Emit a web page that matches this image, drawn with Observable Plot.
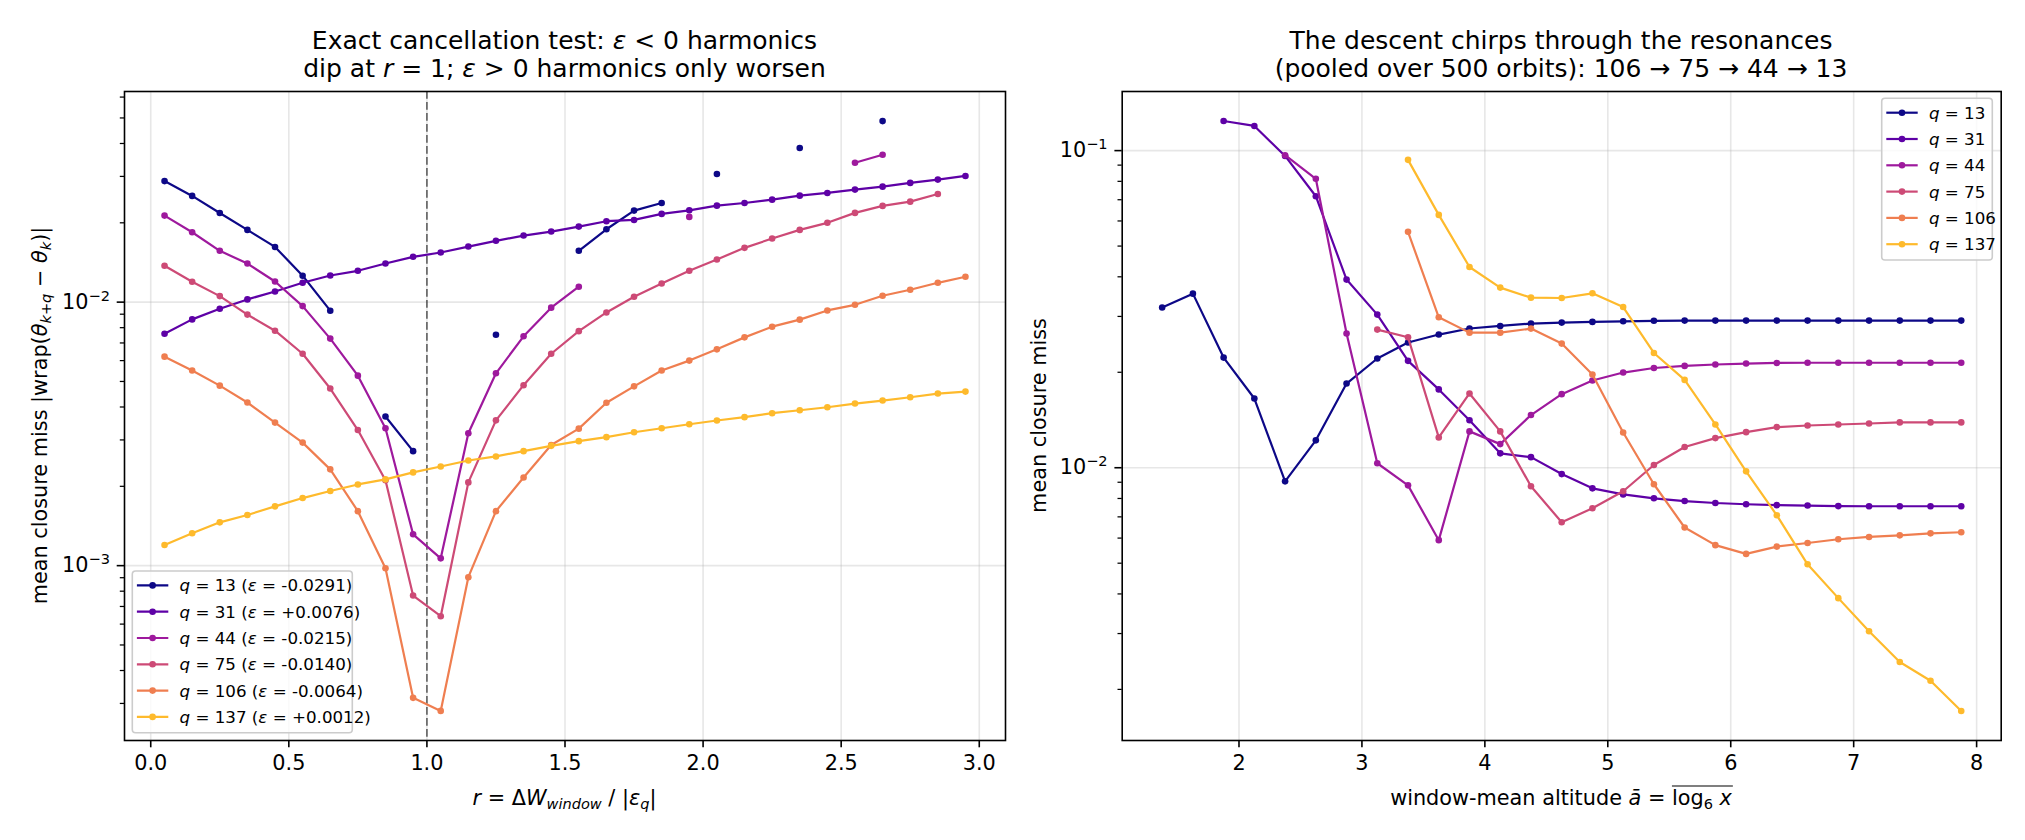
<!DOCTYPE html>
<html>
<head>
<meta charset="utf-8">
<script src="https://cdn.jsdelivr.net/npm/d3@7"></script>
<script src="https://cdn.jsdelivr.net/npm/@observablehq/plot@0.6"></script>
<style>
  body { margin: 0; background: #fff; }
  #fig { position: relative; width: 2025px; height: 840px; overflow: hidden; background: #fff; }
  #fig > svg { position: absolute; top: 0; }
</style>
</head>
<body>
<div id="fig"></div>
<script>
// ---- harmonics and their detuning ----
const harmonics = [13, 31, 44, 75, 106, 137];
const epsilon = [-0.0291, 0.0076, -0.0215, -0.0140, -0.0064, 0.0012];

// ---- left panel: closure miss versus r = ΔW_window / |ε_q| ----
const ratioR = [0.05, 0.15, 0.25, 0.35, 0.45, 0.55, 0.65, 0.75, 0.85, 0.95,
                1.05, 1.15, 1.25, 1.35, 1.45, 1.55, 1.65, 1.75, 1.85, 1.95,
                2.05, 2.15, 2.25, 2.35, 2.45, 2.55, 2.65, 2.75, 2.85, 2.95];
const missRatioQ13 = [0.0288, 0.0253, 0.0218, 0.0188, 0.0162, 0.0126, 0.00928, null, 0.00368, 0.00272,
                      null, null, 0.00752, null, null, 0.01566, 0.0189, 0.02225, 0.02378, null,
                      0.03065, null, null, 0.03845, null, null, 0.04865, null, null, null];
const missRatioQ31 = [0.00759, 0.00860, 0.00944, 0.01024, 0.01098, 0.01184, 0.01262, 0.01315, 0.01401, 0.01486,
                      0.01543, 0.01625, 0.01709, 0.01789, 0.01853, 0.01935, 0.02028, 0.02051, 0.02162, 0.02231,
                      0.02324, 0.02378, 0.02449, 0.02536, 0.02596, 0.02673, 0.02743, 0.02834, 0.02917, 0.03012];
const missRatioQ44 = [0.02130, 0.01842, 0.01566, 0.01401, 0.01198, 0.00966, 0.00727, 0.00526, 0.00332, 0.001315,
                      0.001066, 0.00318, 0.00537, 0.00742, 0.00953, 0.01144, null, null, null, 0.02106,
                      null, null, null, null, null, 0.03382, 0.03626, null, null, null];
const missRatioQ75 = [0.01374, 0.01195, 0.01054, 0.00897, 0.00779, 0.00637, 0.00470, 0.00327, 0.00211, 0.000770,
                      0.000643, 0.00207, 0.00356, 0.00484, 0.00637, 0.00776, 0.00914, 0.01048, 0.01177, 0.01315,
                      0.01452, 0.01607, 0.01743, 0.01880, 0.02000, 0.02181, 0.02318, 0.02406, 0.02573, null];
const missRatioQ106 = [0.00621, 0.00550, 0.00482, 0.00416, 0.00349, 0.00293, 0.00232, 0.00161, 0.000977, 0.000315,
                       0.000281, 0.000904, 0.00161, 0.00216, 0.00287, 0.00331, 0.00415, 0.00479, 0.00550, 0.00600,
                       0.00662, 0.00735, 0.00807, 0.00858, 0.00930, 0.00977, 0.01057, 0.01114, 0.01184, 0.01248];
const missRatioQ137 = [0.001198, 0.001327, 0.001460, 0.001556, 0.001679, 0.001805, 0.001919, 0.002033, 0.002125, 0.002259,
                       0.002379, 0.002507, 0.002597, 0.002720, 0.002848, 0.002968, 0.003073, 0.003209, 0.003323, 0.003441,
                       0.003555, 0.003660, 0.003789, 0.003889, 0.003992, 0.004122, 0.004231, 0.004355, 0.004498, 0.004577];

// ---- right panel: closure miss versus window-mean altitude ----
const altitude = [1.375, 1.625, 1.875, 2.125, 2.375, 2.625, 2.875, 3.125, 3.375, 3.625,
                  3.875, 4.125, 4.375, 4.625, 4.875, 5.125, 5.375, 5.625, 5.875, 6.125,
                  6.375, 6.625, 6.875, 7.125, 7.375, 7.625, 7.875];
const missAltQ13 = [0.0320, 0.0354, 0.02225, 0.01653, 0.00906, 0.01220, 0.01843, 0.02210, 0.02482, 0.0263,
                    0.02748, 0.0280, 0.02848, 0.02869, 0.02883, 0.02896, 0.02906, 0.0291, 0.0291, 0.0291,
                    0.0291, 0.0291, 0.0291, 0.0291, 0.0291, 0.0291, 0.0291];
const missAltQ31 = [null, null, 0.1240, 0.1196, 0.0962, 0.0718, 0.0392, 0.0304, 0.02173, 0.01766,
                    0.01411, 0.01110, 0.01080, 0.00955, 0.00861, 0.00824, 0.00801, 0.00785, 0.00774, 0.00767,
                    0.00762, 0.00760, 0.00757, 0.00756, 0.00756, 0.00756, 0.00756];
const missAltQ44 = [null, null, null, null, 0.0967, 0.0815, 0.0265, 0.01033, 0.00880, 0.00591,
                    0.01302, 0.01187, 0.01466, 0.01706, 0.01884, 0.01996, 0.02063, 0.02095, 0.02116, 0.02131,
                    0.02140, 0.02143, 0.02143, 0.02143, 0.02143, 0.02143, 0.02143];
const missAltQ75 = [null, null, null, null, null, null, null, 0.02726, 0.02578, 0.01246,
                    0.01715, 0.01302, 0.00874, 0.00673, 0.00745, 0.00843, 0.01020, 0.01162, 0.01240, 0.01295,
                    0.01343, 0.01359, 0.01369, 0.01379, 0.0139, 0.0139, 0.0139];
const missAltQ106 = [null, null, null, null, null, null, null, null, 0.05545, 0.02981,
                     0.02667, 0.02667, 0.02746, 0.02463, 0.01967, 0.01292, 0.00887, 0.00648, 0.00570, 0.00535,
                     0.00564, 0.00579, 0.00595, 0.00605, 0.00612, 0.00621, 0.00626];
const missAltQ137 = [null, null, null, null, null, null, null, null, 0.0935, 0.0627,
                     0.04295, 0.03698, 0.03438, 0.03430, 0.03548, 0.03212, 0.02301, 0.01892, 0.01369, 0.00974,
                     0.00708, 0.00496, 0.00388, 0.00305, 0.00244, 0.00213, 0.00171];

// ---- tick values ----
const ratioTicks = [0, 0.5, 1, 1.5, 2, 2.5, 3];
const altitudeTicks = [2, 3, 4, 5, 6, 7, 8];
const ratioMissTicks = [1e-3, 1e-2];
const altitudeMissTicks = [1e-2, 1e-1];
const resonanceRatio = [1];

// plasma colours, one per harmonic
const palette = [0, 0.17, 0.34, 0.51, 0.68, 0.85].map(t => d3.color(d3.interpolatePlasma(t)).formatHex());

const FONT = "DejaVu Sans, sans-serif";
const FS = 20.8;       // tick and axis-label size
const TITLE_FS = 25;   // panel title size

function minorLogTicks([lo, hi]) {
  const out = [];
  for (let e = Math.floor(Math.log10(lo)); e <= Math.ceil(Math.log10(hi)); e++) {
    for (let m = 2; m <= 9; m++) {
      const v = m * Math.pow(10, e);
      if (v >= lo && v <= hi) out.push(v);
    }
  }
  return out;
}

function panel({xs, series, xDomain, yDomain, xTicks, yTicks, xFormat, width, marginLeft, marginRight, under = []}) {
  const grid = {stroke: "#b0b0b0", strokeOpacity: 0.3, strokeWidth: 1.6};
  const marks = [
    Plot.gridX({ticks: xTicks, ...grid}),
    Plot.gridY({ticks: yTicks, ...grid}),
    ...under
  ];
  series.forEach((vals, i) => {
    const rows = vals.map((v, j) => ({x: xs[j], y: v == null ? NaN : v}));
    marks.push(Plot.line(rows, {x: "x", y: "y", stroke: palette[i], strokeWidth: 2.2}));
    marks.push(Plot.dot(rows, {x: "x", y: "y", fill: palette[i], r: 3.3}));
  });
  marks.push(
    Plot.axisX({ticks: xTicks, tickFormat: xFormat, tickSize: 7.3, tickPadding: 7.3, strokeWidth: 1.6, label: null}),
    Plot.axisY({ticks: yTicks, tickFormat: d => "10^" + Math.round(Math.log10(d)), tickSize: 7.3, tickPadding: 7.3, strokeWidth: 1.6, label: null}),
    Plot.axisY({ticks: minorLogTicks(yDomain), tickFormat: () => "", tickSize: 4.2, strokeWidth: 1.25, label: null}),
    Plot.frame({stroke: "#000", strokeWidth: 1.6})
  );
  const svg = Plot.plot({
    width, height: 840,
    marginTop: 91, marginBottom: 100, marginLeft, marginRight,
    x: {domain: xDomain, axis: null},
    y: {type: "log", domain: yDomain, axis: null},
    style: {fontFamily: FONT, fontSize: FS + "px", color: "#000", background: "transparent", overflow: "visible"},
    marks
  });
  // power-of-ten labels with a raised exponent
  d3.select(svg).selectAll("text").each(function() {
    const m = /^10\^(-?\d+)$/.exec(this.textContent);
    if (!m) return;
    const t = d3.select(this);
    t.text(null);
    t.append("tspan").text("10");
    t.append("tspan").attr("dy", -8).attr("font-size", FS * 0.7).text(m[1].replace("-", "\u2212"));
  });
  return svg;
}

const fig = document.getElementById("fig");

const left = panel({
  xs: ratioR,
  series: [missRatioQ13, missRatioQ31, missRatioQ44, missRatioQ75, missRatioQ106, missRatioQ137],
  xDomain: [-0.095, 3.095], yDomain: [2.17e-4, 0.063],
  xTicks: ratioTicks, yTicks: ratioMissTicks, xFormat: d3.format(".1f"),
  width: 1010, marginLeft: 124, marginRight: 5,
  under: [Plot.ruleX(resonanceRatio, {stroke: "#000", strokeOpacity: 0.6, strokeWidth: 1.6, strokeDasharray: "7.7,3.3"})]
});
left.style.left = "0px";
fig.appendChild(left);

const right = panel({
  xs: altitude,
  series: [missAltQ13, missAltQ31, missAltQ44, missAltQ75, missAltQ106, missAltQ137],
  xDomain: [1.05, 8.2], yDomain: [1.38e-3, 0.1536],
  xTicks: altitudeTicks, yTicks: altitudeMissTicks, xFormat: d3.format("d"),
  width: 1015, marginLeft: 111.7, marginRight: 24.3
});
right.style.left = "1010px";
fig.appendChild(right);

// ---- titles, axis labels and legends ----
const over = d3.select(fig).append("svg")
  .attr("width", 2025).attr("height", 840)
  .style("left", "0px")
  .attr("font-family", FONT).attr("font-size", FS).attr("fill", "#000");

function rich(parent, parts, attrs) {
  const t = parent.append("text");
  for (const [k, v] of Object.entries(attrs)) t.attr(k, v);
  for (const p of parts) {
    const s = t.append("tspan").text(p.t);
    if (p.i) s.attr("font-style", "italic");
    if (p.size) s.attr("font-size", p.size);
    if (p.dy) s.attr("dy", p.dy);
  }
  return t;
}
const SUB = FS * 0.7;

// left titles
rich(over, [{t: "Exact cancellation test: "}, {t: "ε", i: 1}, {t: " < 0 harmonics"}],
  {x: 564.5, y: 48.5, "text-anchor": "middle", "font-size": TITLE_FS});
rich(over, [{t: "dip at "}, {t: "r", i: 1}, {t: " = 1; "}, {t: "ε", i: 1}, {t: " > 0 harmonics only worsen"}],
  {x: 564.5, y: 77, "text-anchor": "middle", "font-size": TITLE_FS});
// right titles
rich(over, [{t: "The descent chirps through the resonances"}],
  {x: 1561, y: 48.5, "text-anchor": "middle", "font-size": TITLE_FS});
rich(over, [{t: "(pooled over 500 orbits): 106 → 75 → 44 → 13"}],
  {x: 1561, y: 77, "text-anchor": "middle", "font-size": TITLE_FS});

// x labels
rich(over, [{t: "r", i: 1}, {t: " = Δ"}, {t: "W", i: 1}, {t: "window", i: 1, size: SUB, dy: 4},
            {t: " / |", dy: -4}, {t: "ε", i: 1}, {t: "q", i: 1, size: SUB, dy: 4}, {t: "|", dy: -4}],
  {x: 564.5, y: 805, "text-anchor": "middle"});
const xl = rich(over, [{t: "window-mean altitude "}, {t: "ā", i: 1}, {t: " = log"}, {t: "6", size: SUB, dy: 4},
                       {t: " ", dy: -4}, {t: "x", i: 1}],
  {x: 1561, y: 805, "text-anchor": "middle"});
{
  const node = xl.node();
  const n = node.getNumberOfChars();
  const x1 = node.getStartPositionOfChar(n - 6).x;
  const x2 = node.getEndPositionOfChar(n - 1).x;
  over.append("line").attr("x1", x1).attr("x2", x2 + 1).attr("y1", 786).attr("y2", 786)
    .attr("stroke", "#000").attr("stroke-width", 1.2);
}

// y labels
rich(over, [{t: "mean closure miss |wrap("}, {t: "θ", i: 1}, {t: "k+q", i: 1, size: SUB, dy: 4},
            {t: " − ", dy: -4}, {t: "θ", i: 1}, {t: "k", i: 1, size: SUB, dy: 4}, {t: ")|", dy: -4}],
  {transform: "translate(47,415.5) rotate(-90)", "text-anchor": "middle"});
rich(over, [{t: "mean closure miss"}], {transform: "translate(1046,415.5) rotate(-90)", "text-anchor": "middle"});

// legends
function legend(x, y, w, labels) {
  const g = over.append("g");
  g.append("rect").attr("x", x).attr("y", y).attr("width", w).attr("height", 161.7)
    .attr("rx", 3.3).attr("fill", "#fff").attr("fill-opacity", 0.8)
    .attr("stroke", "#cccccc").attr("stroke-width", 1.6);
  labels.forEach((parts, i) => {
    const cy = y + 14.4 + i * 26.3;
    g.append("line").attr("x1", x + 4.6).attr("x2", x + 36).attr("y1", cy).attr("y2", cy)
      .attr("stroke", palette[i]).attr("stroke-width", 2.2);
    g.append("circle").attr("cx", x + 20.3).attr("cy", cy).attr("r", 3.3).attr("fill", palette[i]);
    rich(g, parts, {x: x + 47.2, y: cy + 6, "font-size": 16.7});
  });
}
const signed = v => (v < 0 ? "-" : "+") + Math.abs(v).toFixed(4);
legend(132.3, 571, 220, harmonics.map((q, i) =>
  [{t: "q", i: 1}, {t: ` = ${q} (`}, {t: "ε", i: 1}, {t: ` = ${signed(epsilon[i])})`}]));
legend(1881.7, 98.3, 110.6, harmonics.map(q => [{t: "q", i: 1}, {t: ` = ${q}`}]));
</script>
</body>
</html>
